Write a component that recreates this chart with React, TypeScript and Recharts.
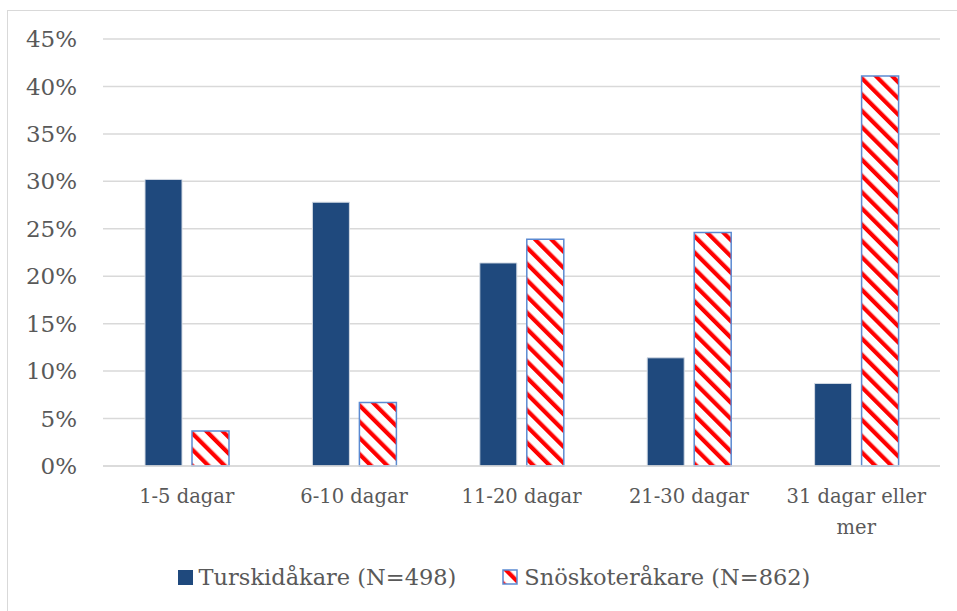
import { BarChart, Bar, XAxis, YAxis, CartesianGrid, Legend } from 'recharts';

// Categories and values (percent of respondents)
const categories = ['1-5 dagar', '6-10 dagar', '11-20 dagar', '21-30 dagar', '31 dagar eller mer'];
const turskidakare = [30.2, 27.8, 21.4, 11.4, 8.7];
const snoskoterakare = [3.7, 6.7, 23.9, 24.6, 41.1];
const yTicks = [0, 5, 10, 15, 20, 25, 30, 35, 40, 45];
const seriesNames = ['Turskidåkare (N=498)', 'Snöskoteråkare (N=862)'];

const FONT = '"DejaVu Serif", serif';
const TEXT = '#595959';
const GRID = '#D9D9D9';
const NAVY = '#1F497D';
const BLUE_EDGE = '#5B8AD2';

const chartData = categories.map((name, i) => ({
    name,
    turskid: turskidakare[i],
    snoskoter: snoskoterakare[i],
}));

// wrap long category names onto two lines
const wrapLabel = (label: string, max = 14) => {
    const lines: string[] = [];
    let current = '';
    label.split(' ').forEach((word) => {
        const next = current ? `${current} ${word}` : word;
        if (next.length > max && current) {
            lines.push(current);
            current = word;
        } else {
            current = next;
        }
    });
    if (current) lines.push(current);
    return lines;
};

const CategoryTick = (props: any) => {
    const { x, y, payload } = props;
    const lines = wrapLabel(payload.value);
    return (
        <text x={x} y={y + 37} textAnchor="middle" fill={TEXT} fontSize={19.5} fontFamily={FONT}>
            {lines.map((line, i) => (
                <tspan key={i} x={x} dy={i === 0 ? 0 : 31}>{line}</tspan>
            ))}
        </text>
    );
};

const LegendContent = () => (
    <div style={{
        display: 'flex', justifyContent: 'center', alignItems: 'center', gap: 46,
        paddingLeft: 48, height: 40, fontFamily: FONT, fontSize: 22.5, color: TEXT,
    }}>
        <div style={{ display: 'flex', alignItems: 'center' }}>
            <svg width={15} height={15} style={{ marginRight: 6 }}>
                <rect x={0} y={0} width={15} height={15} fill={NAVY} />
            </svg>
            <span>{seriesNames[0]}</span>
        </div>
        <div style={{ display: 'flex', alignItems: 'center' }}>
            <svg width={16} height={16} style={{ marginRight: 6 }}>
                <rect x={1} y={1} width={14} height={14} fill="url(#snoStripes)" stroke={BLUE_EDGE} strokeWidth={1.5} />
            </svg>
            <span>{seriesNames[1]}</span>
        </div>
    </div>
);

export default function App() {
    return (
        <div style={{ position: 'fixed', left: 0, top: 0, width: 957, height: 611, overflow: 'hidden', background: '#fff' }}>
            <div style={{ position: 'absolute', left: 7, top: 10, width: 1000, height: 700, border: `1px solid ${GRID}` }} />
            <div style={{ position: 'absolute', left: 0, top: 0 }}>
                <BarChart
                    width={957}
                    height={611}
                    data={chartData}
                    margin={{ top: 39, right: 17, left: 0, bottom: 14 }}
                    barSize={37}
                    barGap={10}
                >
                    <defs>
                        <pattern id="snoStripes" patternUnits="userSpaceOnUse" width={11.5} height={11.5} patternTransform="rotate(-45)">
                            <rect x={0} y={0} width={11.5} height={11.5} fill="#fff" />
                            <rect x={0} y={0} width={4.2} height={11.5} fill="#FF0000" />
                        </pattern>
                    </defs>
                    <CartesianGrid vertical={false} stroke={GRID} strokeWidth={1.5} />
                    <XAxis
                        dataKey="name"
                        height={91}
                        tick={<CategoryTick />}
                        tickLine={false}
                        tickSize={0}
                        tickMargin={0}
                        axisLine={{ stroke: GRID, strokeWidth: 1.5 }}
                        interval={0}
                    />
                    <YAxis
                        width={103}
                        domain={[0, 45]}
                        ticks={yTicks}
                        tickFormatter={(v: number) => `${v}%`}
                        tick={{ fill: TEXT, fontSize: 23, fontFamily: FONT }}
                        axisLine={false}
                        tickLine={false}
                        tickSize={0}
                        tickMargin={26}
                    />
                    <Legend verticalAlign="bottom" height={40} content={<LegendContent />} />
                    <Bar dataKey="turskid" name={seriesNames[0]} fill={NAVY} stroke="#D3DAE4" strokeWidth={1} isAnimationActive={false} />
                    <Bar dataKey="snoskoter" name={seriesNames[1]} fill="url(#snoStripes)" stroke={BLUE_EDGE} strokeWidth={1.5} isAnimationActive={false} />
                </BarChart>
            </div>
        </div>
    );
}
